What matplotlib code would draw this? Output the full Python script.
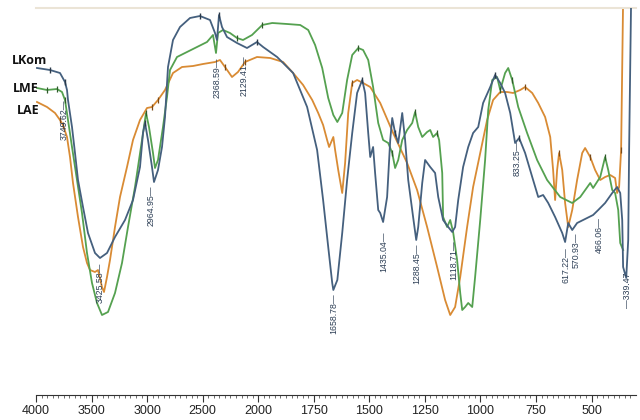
import numpy as np
import matplotlib
matplotlib.use("Agg")
import matplotlib.pyplot as plt

# ---------------- data (wavenumber cm-1, transmittance a.u.) ----------------
lkom_wn = [3991, 3874, 3784, 3739, 3721, 3712, 3676, 3649, 3622, 3577, 3532, 3469, 3424,
           3361, 3289, 3199, 3127, 3064, 3037, 3019, 2992, 2956, 2938, 2902, 2866, 2839,
           2812, 2767, 2704, 2614, 2524, 2434, 2389, 2371, 2353, 2326, 2281, 2191, 2101,
           2011, 1978, 1915, 1843, 1780, 1735, 1708, 1685, 1667, 1662, 1644, 1622, 1600,
           1577, 1555, 1532, 1519, 1505, 1496, 1483, 1474, 1460, 1451, 1438, 1420, 1406,
           1397, 1384, 1370, 1352, 1339, 1325, 1303, 1289, 1280, 1262, 1249, 1226, 1204,
           1190, 1168, 1145, 1127, 1114, 1100, 1078, 1055, 1033, 1010, 988, 956, 934, 911,
           889, 866, 844, 826, 799, 767, 740, 718, 695, 664, 632, 619, 605, 587, 565, 538,
           493, 470, 439, 407, 385, 371, 362, 358, 344, 335, 331, 322]
lkom_t = [327, 325, 322, 313, 305, 295, 268, 242, 215, 188, 162, 142, 137,
          142, 158, 175, 195, 228, 262, 272, 255, 228, 213, 225, 248, 278,
          328, 355, 368, 377, 379, 375, 362, 355, 380, 368, 358, 352, 347,
          353, 348, 338, 322, 288, 245, 195, 148, 112, 105, 115, 162, 215,
          262, 302, 315, 302, 262, 238, 248, 222, 185, 182, 173, 198, 255,
          277, 262, 252, 282, 255, 215, 178, 155, 168, 212, 235, 228, 222,
          198, 175, 168, 163, 168, 195, 228, 248, 262, 268, 292, 308, 320, 312,
          302, 282, 252, 257, 242, 218, 198, 200, 192, 178, 162, 153, 172, 165, 172, 175,
          180, 185, 192, 202, 208, 202, 175, 128, 117, 155, 245, 395]

lme_wn = [3991, 3901, 3811, 3766, 3739, 3712, 3676, 3631, 3586, 3541, 3496, 3451, 3406,
          3352, 3289, 3226, 3172, 3109, 3046, 3010, 2983, 2947, 2929, 2902, 2857, 2821,
          2794, 2731, 2641, 2551, 2461, 2407, 2380, 2362, 2317, 2254, 2191, 2137, 2056,
          1982, 1937, 1870, 1811, 1775, 1744, 1712, 1685, 1662, 1644, 1622, 1600, 1577,
          1550, 1528, 1505, 1483, 1460, 1438, 1415, 1397, 1384, 1370, 1352, 1330, 1307,
          1294, 1280, 1262, 1240, 1226, 1213, 1195, 1186, 1172, 1168, 1150, 1136, 1123,
          1105, 1091, 1082, 1069, 1055, 1037, 1024, 1001, 979, 965, 947, 925, 911, 889,
          875, 857, 830, 790, 745, 700, 641, 587, 551, 506, 493, 461, 439, 425, 407, 394,
          380, 371, 358]
lme_t = [307, 305, 306, 303, 295, 275, 248, 215, 182, 142, 112, 92, 80,
         83, 102, 132, 168, 208, 255, 282, 268, 242, 227, 235, 268, 298,
         325, 338, 343, 348, 353, 360, 342, 362, 365, 362, 357, 355, 360,
         370, 372, 371, 370, 365, 350, 327, 297, 280, 273, 282, 315, 340,
         347, 345, 335, 308, 272, 255, 252, 242, 227, 235, 255, 265, 272,
         283, 268, 258, 263, 265, 258, 262, 255, 222, 178, 168, 175, 163,
         135, 102, 85, 88, 92, 88, 118, 175, 235, 285, 315, 318, 305, 322,
         327, 315, 288, 262, 235, 215, 198, 192, 198, 212, 207, 218, 238, 225, 205, 202,
         185, 152, 145]

lae_wn = [3991, 3901, 3829, 3784, 3757, 3721, 3694, 3667, 3622, 3577, 3541, 3514, 3469,
          3442, 3406, 3388, 3361, 3334, 3289, 3244, 3181, 3127, 3064, 3001, 2956, 2902,
          2839, 2767, 2686, 2587, 2497, 2389, 2344, 2299, 2236, 2182, 2119, 2011, 1946,
          1888, 1843, 1798, 1757, 1730, 1708, 1690, 1681, 1662, 1654, 1640, 1622, 1609,
          1595, 1577, 1555, 1528, 1496, 1451, 1393, 1330, 1285, 1240, 1195, 1159, 1136,
          1114, 1091, 1060, 1033, 1001, 970, 943, 911, 880, 853, 821, 799, 767, 740, 709,
          686, 673, 664, 655, 646, 632, 619, 605, 587, 565, 542, 529, 506, 484, 461, 439,
          416, 394, 385, 376, 367, 358]
lae_t = [293, 288, 282, 275, 270, 258, 238, 212, 178, 148, 132, 125, 123,
         125, 108, 103, 118, 135, 168, 198, 228, 255, 275, 287, 288, 295,
         305, 322, 328, 329, 331, 333, 335, 328, 318, 323, 333, 338, 337,
         333, 322, 310, 295, 282, 270, 255, 248, 258, 245, 225, 202, 232,
         282, 312, 315, 312, 308, 292, 262, 232, 205, 168, 128, 95, 80,
         88, 118, 168, 208, 242, 275, 295, 303, 303, 302, 305, 308, 302, 292, 278,
         258, 225, 195, 225, 242, 225, 192, 168, 185, 215, 242, 247, 238, 225, 215, 218,
         220, 217, 202, 208, 245, 395]

peak_labels = ["3749.62", "3425.58", "2964.95", "2368.59", "2129.41", "1658.78", "1435.04",
               "1288.45", "1118.71", "833.25", "617.22", "570.93", "466.06", "339.47"]
peak_label_top = [295, 132, 210, 338, 340, 102, 163, 152, 155, 255, 148, 162, 178, 122]

series_names = ["LKom", "LME", "LAE"]

# ---------------- scale: 4000-2000 compressed, 2000-300 expanded ----------------
def fwd(w):
    w = np.asarray(w, dtype=float)
    return np.where(w >= 2000, (w - 2000) / 500.0, (w - 2000) / 250.0)

def inv(u):
    u = np.asarray(u, dtype=float)
    return np.where(u >= 0, 2000 + 500.0 * u, 2000 + 250.0 * u)

fig = plt.figure(figsize=(6.4, 4.2), dpi=100)
ax = fig.add_axes([36 / 640, 25 / 420, 600 / 640, 387 / 420])
ax.set_xscale("function", functions=(fwd, inv))
ax.set_xlim(4000, 300)
ax.set_ylim(0, 387)

c_kom = "#45607e"
c_me = "#55a150"
c_ae = "#d98b34"
lw = 1.3
ax.plot(lae_wn, lae_t, color=c_ae, lw=lw, zorder=2)
ax.plot(lme_wn, lme_t, color=c_me, lw=lw, zorder=3)
ax.plot(lkom_wn, lkom_t, color=c_kom, lw=lw, zorder=4)

# small peak-pick markers
ax.plot(lkom_wn, lkom_t, ls="none", marker="|", ms=5, mew=1.0, color="#2b3a4a",
        markevery=[1, 3, 19, 30, 34, 39, 54, 66, 90, 95], zorder=5)
ax.plot(lme_wn, lme_t, ls="none", marker="|", ms=4, mew=0.9, color="#2f5a2a",
        markevery=[1, 2, 4, 19, 36, 39, 52, 59, 65, 71, 90, 93, 104], zorder=5)
ax.plot(lae_wn, lae_t, ls="none", marker="|", ms=4, mew=0.9, color="#7a4a18",
        markevery=[3, 4, 24, 25, 33, 36, 53, 76, 84, 92, 100], zorder=5)

# peak labels
lab_color = "#2c3e55"
for txt, top in zip(peak_labels, peak_label_top):
    w = float(txt)
    s = ("\u2014" + txt) if w < 400 else (txt + "\u2014")
    ax.text(w, top, s, rotation=90, ha="center", va="top", fontsize=6.3,
            color=lab_color, family="Liberation Sans", zorder=6)

# series names
fig.text(12 / 640, 1 - 60 / 420, series_names[0], fontsize=9, fontweight="bold",
         family="Open Sans", ha="left", va="center", color="#111111")
fig.text(13 / 640, 1 - 88 / 420, series_names[1], fontsize=9, fontweight="bold",
         family="Open Sans", ha="left", va="center", color="#111111")
fig.text(17 / 640, 1 - 110 / 420, series_names[2], fontsize=9, fontweight="bold",
         family="Open Sans", ha="left", va="center", color="#111111")

# axes styling
for s in ["left", "right"]:
    ax.spines[s].set_visible(False)
ax.spines["top"].set_color("#ebe4d6")
ax.spines["top"].set_linewidth(1.5)
ax.spines["bottom"].set_color("#333333")
ax.spines["bottom"].set_linewidth(0.8)
ax.set_yticks([])
ax.set_xticks([4000, 3500, 3000, 2500, 2000, 1750, 1500, 1250, 1000, 750, 500])
ax.set_xticklabels(["4000", "3500", "3000", "2500", "2000", "1750", "1500", "1250",
                    "1000", "750", "500"])
minor = list(range(2050, 4000, 50)) + list(range(325, 2000, 25))
ax.set_xticks(minor, minor=True)
ax.tick_params(axis="x", which="major", length=5, width=0.8, color="#333333",
               labelsize=9, pad=2.5, labelcolor="#222222")
ax.tick_params(axis="x", which="minor", length=2.5, width=0.6, color="#555555")
for lab in ax.get_xticklabels():
    lab.set_family("Liberation Sans")

fig.savefig("out.png", dpi=100)
